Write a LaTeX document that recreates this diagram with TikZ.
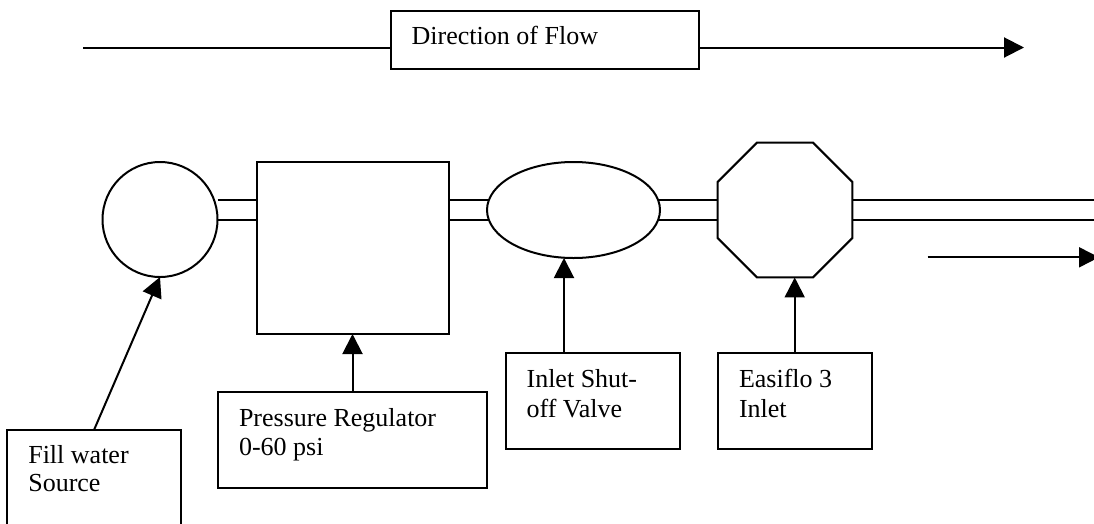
\documentclass[tikz,border=0pt]{standalone}
\usepackage{fontspec}
\setmainfont{Liberation Serif}
\usetikzlibrary{shapes.geometric,arrows.meta}
\begin{document}
\begin{tikzpicture}[x=1pt,y=-1pt,
  line width=2pt,
  every node/.style={inner sep=0pt, outer sep=0pt},
  box/.style={draw, rectangle, inner sep=0pt, anchor=north west},
  lbl/.style={anchor=base west, font=\fontsize{26}{29}\selectfont},
  arr/.style={-{Triangle[length=20pt,width=20pt]}},
  pipe/.style={line width=2pt}]
\useasboundingbox (0,0) rectangle (1094,523);
\clip (0,0) rectangle (1094,523);

% direction of flow
\node[box, minimum width=308pt, minimum height=58pt] (dirbox) at (391,11) {};
\node[lbl] (dirtxt) at (411.7,44) {Direction of Flow};
\coordinate (ts) at (83,47.5);
\coordinate (te) at (1024,47.5);
\draw (ts) -- (ts -| dirbox.west);
\draw[arr] (ts -| dirbox.east) -- (te);

% components
\node[draw, circle, minimum size=115pt] (src) at (160,219.5) {};
\node[draw, rectangle, minimum width=192pt, minimum height=172pt] (reg) at (353,248) {};
\node[draw, ellipse, minimum width=173pt, minimum height=96pt] (valve) at (573.5,210) {};
\node[draw, regular polygon, regular polygon sides=8, minimum size=146pt] (inlet) at (785,210) {};

% pipes
\coordinate (pa) at (0,200);
\coordinate (pb) at (0,219.5);
\coordinate (pe) at (1100,0);
\draw[pipe] (src.east |- pa) -- (reg.west |- pa);
\draw[pipe] (src.east |- pb) -- (reg.west |- pb);
\draw[pipe] (reg.east |- pa) -- (valve.173.4 |- pa);
\draw[pipe] (reg.east |- pb) -- (valve.186.3 |- pb);
\draw[pipe] (valve.6.6 |- pa) -- (inlet.west |- pa);
\draw[pipe] (valve.353.7 |- pb) -- (inlet.west |- pb);
\draw[pipe] (inlet.east |- pa) -- (pe |- pa);
\draw[pipe] (inlet.east |- pb) -- (pe |- pb);

% small flow arrow
\coordinate (sa) at (927.5,257.3);
\coordinate (sb) at (1099,257.3);
\draw[arr] (sa) -- (sb);

% label boxes
\node[box, minimum width=173.4pt, minimum height=130pt] (fillbox) at (7.3,430) {};
\node[lbl] (fill1) at (28.3,463.3) {Fill water};
\node[lbl] (fill2) at (28.3,491.7) {Source};
\draw[arr] (fillbox.north) -- (src.south);

\node[box, minimum width=269pt, minimum height=96pt] (regbox) at (218,392) {};
\node[lbl] (reg1) at (239,426) {Pressure Regulator};
\node[lbl] (reg2) at (239,455) {0-60 psi};
\draw[arr] (regbox.north) -- (regbox.north |- reg.south);

\node[box, minimum width=174pt, minimum height=96pt] (shutbox) at (506,353) {};
\node[lbl] (shut1) at (526.6,387.7) {Inlet Shut-};
\node[lbl] (shut2) at (526.6,417) {off Valve};
\coordinate (vx) at (564,0);
\draw[arr] (vx |- shutbox.north) -- (vx |- valve.south);

\node[box, minimum width=154pt, minimum height=96pt] (ezbox) at (717.7,353) {};
\node[lbl] (ez1) at (739,387.3) {Easiflo 3};
\node[lbl] (ez2) at (739,417.3) {Inlet};
\draw[arr] (ezbox.north) -- (ezbox.north |- inlet.south);
\end{tikzpicture}
\end{document}
